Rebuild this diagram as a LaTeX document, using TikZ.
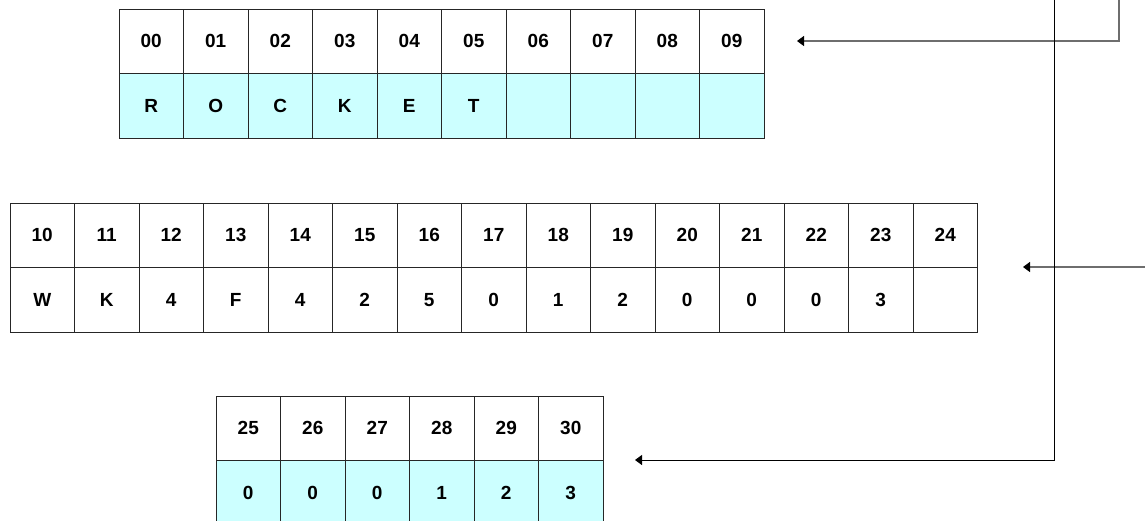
\documentclass[tikz,border=0pt]{standalone}
\usepackage{fontspec}
\setmainfont{Liberation Sans}
\usetikzlibrary{arrows.meta}
\definecolor{cellcyan}{HTML}{CCFFFF}
\definecolor{linegray}{HTML}{6E6E6E}
\begin{document}
\begin{tikzpicture}[x=1pt,y=-1pt,
  cell/.style={draw=black!85,line width=0.9pt,minimum width=64.5pt,minimum height=64.5pt,
    inner sep=0pt,outer sep=0pt,font=\fontsize{19}{20}\selectfont\bfseries},
  hicell/.style={cell,fill=cellcyan},
  grayarrow/.style={draw=linegray,line width=1.4pt,-{Triangle[length=7pt,width=10pt,color=black]}},
  blackline/.style={draw=black,line width=1pt},
  blackarrow/.style={blackline,-{Triangle[length=7pt,width=10pt]}}]
\useasboundingbox (0,0) rectangle (1145,520);
\clip (0,0) rectangle (1145,520);
% top table
\foreach \lab [count=\i from 0] in {00,01,02,03,04,05,06,07,08,09}
  \node[cell] (ta\i) at (119+32.25+64.5*\i,41.25) {\lab};
\foreach \lab [count=\i from 0] in {R,O,C,K,E,T,{},{},{},{}}
  \node[hicell] (tb\i) at (119+32.25+64.5*\i,105.75) {\lab};
% middle table
\foreach \lab [count=\i from 0] in {10,11,12,13,14,15,16,17,18,19,20,21,22,23,24}
  \node[cell] (ma\i) at (10+32.25+64.5*\i,235.25) {\lab};
\foreach \lab [count=\i from 0] in {W,K,4,F,4,2,5,0,1,2,0,0,0,3,{}}
  \node[cell] (mb\i) at (10+32.25+64.5*\i,299.75) {\lab};
% bottom table
\foreach \lab [count=\i from 0] in {25,26,27,28,29,30}
  \node[cell] (ba\i) at (216+32.25+64.5*\i,428.25) {\lab};
\foreach \lab [count=\i from 0] in {0,0,0,1,2,3}
  \node[hicell] (bb\i) at (216+32.25+64.5*\i,492.75) {\lab};
% connectors
\coordinate (topsrc) at (1119,-5);
\coordinate (topbend) at (1119,41);
\coordinate (toptip) at (797,41);
\coordinate (midsrc) at (1150,267);
\coordinate (midtip) at (1023,267);
\coordinate (vsrc) at (1054,-5);
\coordinate (vbend) at (1054,460);
\coordinate (bottip) at (635,460);
\draw[grayarrow] (topsrc) -- (topbend) -- (toptip);
\draw[grayarrow] (midsrc) -- (midtip);
\draw[blackarrow] (vsrc) -- (vbend) -- (bottip);
\end{tikzpicture}
\end{document}
